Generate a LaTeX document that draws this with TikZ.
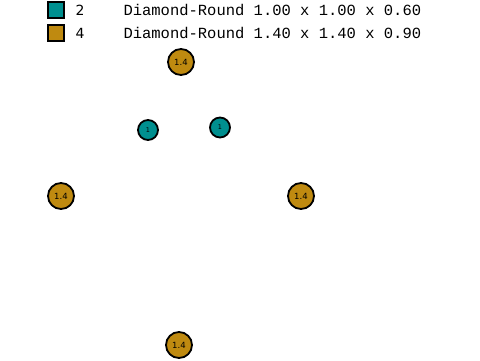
\documentclass[tikz,border=0pt]{standalone}
\usepackage{fontspec}
\setmainfont{DejaVu Sans}
\setmonofont{Liberation Mono}
\usepackage{xcolor}
\usepackage{tikz}

\definecolor{tealfill}{HTML}{008F8F}
\definecolor{goldfill}{HTML}{BF8A10}

\begin{document}
\begin{tikzpicture}[x=1pt, y=-1pt,
    swatch/.style={draw, rectangle, line width=1.5pt, minimum size=16pt, inner sep=0pt},
    hole/.style={draw, circle, line width=1.8pt, inner sep=0pt, font=\fontsize{8.5}{9}\selectfont},
    small/.style={hole, fill=tealfill, minimum size=20pt, font=\fontsize{6.5}{7}\selectfont},
    big/.style={hole, fill=goldfill, minimum size=26pt}]
    \useasboundingbox (0,0) rectangle (480,360);
    % Legend
    \node[swatch, fill=tealfill] (keyA) at (56,10) {};
    \node[swatch, fill=goldfill] (keyB) at (56,33) {};
    \node[anchor=west, font=\fontsize{14}{16}\selectfont] (countA) at (72,10) {2};
    \node[anchor=west, font=\fontsize{14}{16}\selectfont] (countB) at (72,33) {4};
    \node[anchor=west, font=\ttfamily\fontsize{15.5}{17}\selectfont] (descA) at (120,10) {Diamond-Round 1.00 x 1.00 x 0.60};
    \node[anchor=west, font=\ttfamily\fontsize{15.5}{17}\selectfont] (descB) at (120,33) {Diamond-Round 1.40 x 1.40 x 0.90};

    % Holes
    \node[big] (top) at (181,62) {1.4};
    \node[big] (left) at (61,196) {1.4};
    \node[big] (right) at (301,196) {1.4};
    \node[big] (bottom) at (179,345) {1.4};
    \node[small] (innerA) at (148,130) {1};
    \node[small] (innerB) at (220,127.5) {1};
\end{tikzpicture}
\end{document}
